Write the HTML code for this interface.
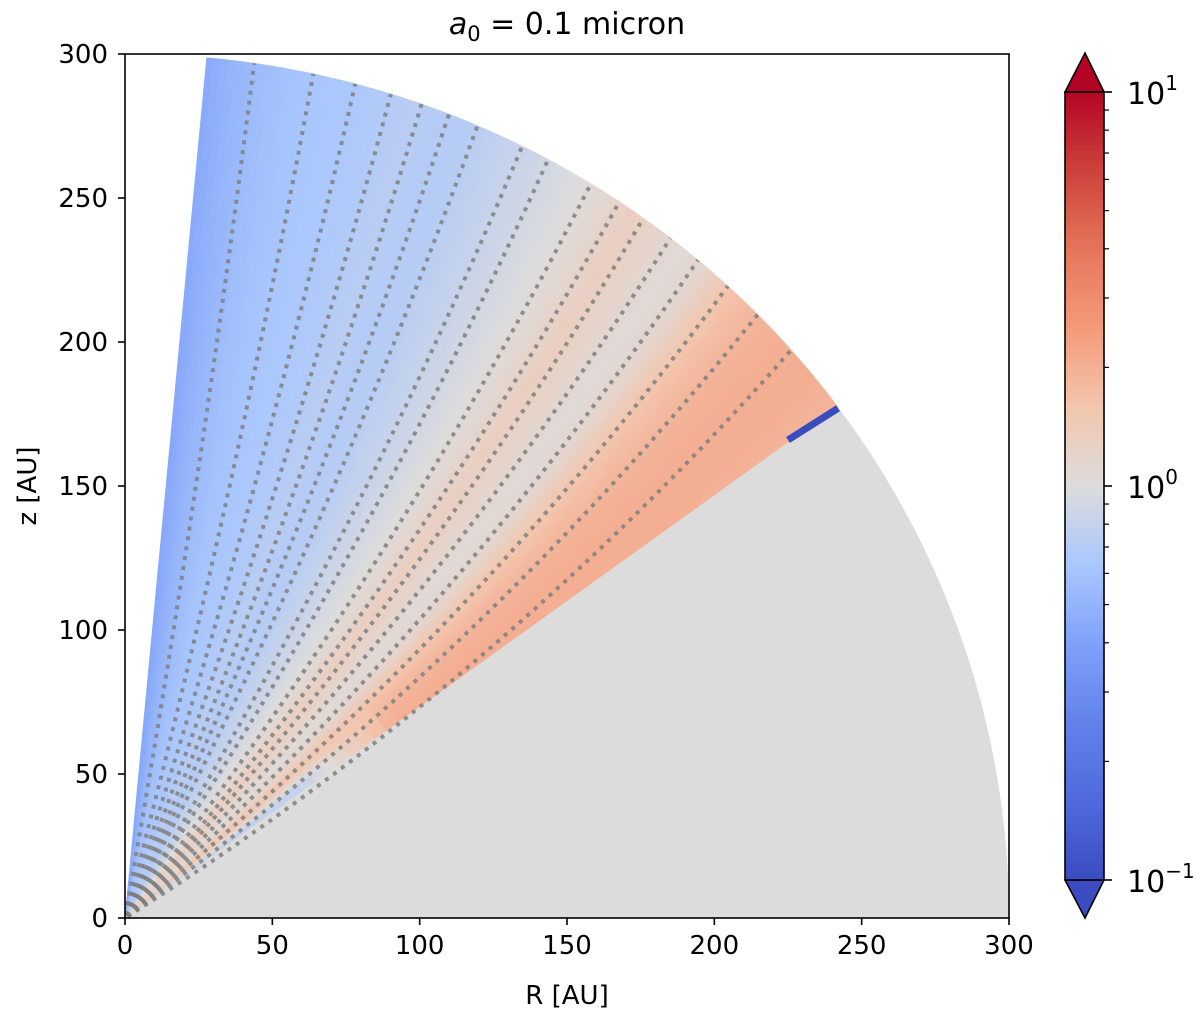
<!DOCTYPE html>
<html><head><meta charset="utf-8"><style>
html,body{margin:0;padding:0;background:#fff;}
svg text{font-family:"DejaVu Sans","Liberation Sans",sans-serif;fill:#000;}
</style></head><body>
<svg id="chart" width="1200" height="1015" viewBox="0 0 1200 1015" xmlns="http://www.w3.org/2000/svg">
<defs>
<clipPath id="plotclip"><rect x="125" y="54" width="884" height="864"/></clipPath>
<linearGradient id="cbgrad" x1="0" y1="1" x2="0" y2="0">
<stop offset="0" stop-color="rgb(59,76,192)"/><stop offset="0.1" stop-color="rgb(80,106,220)"/>
<stop offset="0.2" stop-color="rgb(98,130,234)"/><stop offset="0.3" stop-color="rgb(127,161,249)"/>
<stop offset="0.4" stop-color="rgb(170,199,253)"/><stop offset="0.5" stop-color="rgb(221,220,220)"/>
<stop offset="0.6" stop-color="rgb(243,198,174)"/><stop offset="0.7" stop-color="rgb(244,154,123)"/>
<stop offset="0.8" stop-color="rgb(229,117,91)"/><stop offset="0.9" stop-color="rgb(205,66,60)"/>
<stop offset="1" stop-color="rgb(180,4,38)"/>
</linearGradient>
</defs>
<text x="567" y="34" font-size="30" text-anchor="middle"><tspan font-style="italic">a</tspan><tspan font-size="21" dy="7">0</tspan><tspan dy="-7"> = 0.1 micron</tspan></text>
<g id="plot" clip-path="url(#plotclip)"></g>
<rect x="125" y="54" width="884" height="864" fill="none" stroke="#000" stroke-width="1.6"/>
<g id="axes"></g>
<text x="567" y="1004" font-size="26" text-anchor="middle">R [AU]</text>
<text x="36" y="486" font-size="26" text-anchor="middle" transform="rotate(-90 36 486)">z [AU]</text>
<g id="colorbar">
<path d="M1065,92 L1085,53 L1104,92 Z" fill="rgb(180,4,38)" stroke="#000" stroke-width="1.6"/>
<path d="M1065,880 L1085,918 L1104,880 Z" fill="rgb(59,76,192)" stroke="#000" stroke-width="1.6"/>
<rect x="1065" y="92" width="39" height="788" fill="url(#cbgrad)" stroke="#000" stroke-width="1.6"/>
</g>
</svg>
<script>
// ---- data ----
const xTicks = [0, 50, 100, 150, 200, 250, 300];
const yTicks = [0, 50, 100, 150, 200, 250, 300];
// streamline end elevation angles (deg) at R=300 AU
const streamEndAngles = [81.6, 77.7, 74.9, 72.5, 70.4, 68.5, 66.5, 63.3, 61.4, 58.2, 56.0, 54.1, 51.9, 49.6, 47.0, 44.3, 41.1];
// log10 ratio profile vs streamline-end angle
const profileAngles = [37, 39, 41, 43, 45, 47, 49, 51, 53, 55, 57, 59, 61, 63, 65, 67, 69, 71, 73, 75, 77, 79, 81, 83, 85];
const profileValues = [0.28, 0.31, 0.31, 0.3, 0.26, 0.2, 0.07, 0.02, 0.08, 0.12, 0.05, 0.0, -0.04, -0.08, -0.11, -0.15, -0.16, -0.14, -0.17, -0.19, -0.2, -0.22, -0.25, -0.3, -0.36];
const diskAngle = 36.3;   // lower boundary of wind region (deg)
const wedgeTop = 84.7;    // upper boundary (deg)
const outerRadius = 300;
const cbTicks = [1, 0, -1];
const cbLabels = ["1", "0", "\u22121"];

// ---- scales ----
const sx = r => 125 + r * 884 / 300;
const sy = z => 918 - z * 864 / 300;
const cbY = v => 486 - v * 394;
const NS = "http://www.w3.org/2000/svg";
function mk(tag, attrs, parent) { const e = document.createElementNS(NS, tag); for (const k in attrs) e.setAttribute(k, attrs[k]); parent.appendChild(e); return e; }

const cmapStops = [[59,76,192],[80,106,220],[98,130,234],[127,161,249],[170,199,253],[221,220,220],[243,198,174],[244,154,123],[229,117,91],[205,66,60],[180,4,38]];
function cmap(v) {
  let t = Math.max(0, Math.min(1, (v + 1) / 2)) * 10;
  const i = Math.min(9, Math.floor(t)), f = t - i;
  const a = cmapStops[i], b = cmapStops[i + 1];
  return `rgb(${Math.round(a[0]+(b[0]-a[0])*f)},${Math.round(a[1]+(b[1]-a[1])*f)},${Math.round(a[2]+(b[2]-a[2])*f)})`;
}
function profile(th) {
  if (th <= profileAngles[0]) return profileValues[0];
  for (let i = 0; i < profileAngles.length - 1; i++) {
    if (th <= profileAngles[i + 1]) { const f = (th - profileAngles[i]) / (profileAngles[i + 1] - profileAngles[i]); return profileValues[i] + (profileValues[i + 1] - profileValues[i]) * f; }
  }
  return profileValues[profileValues.length - 1];
}
const bendK = 0.17;
const localAngle = (thEnd, r) => thEnd - bendK * (90 - thEnd) * (1 - r / outerRadius);
function endAngle(th, r) { const s = 1 - r / outerRadius; return (th + 15.3 * s) / (1 + bendK * s); }
function valueAt(r, th) {
  const te = endAngle(th, r);
  let v = profile(te);
  if (te < 47 && r < 115) { const w = Math.min(1, (115 - r) / 40) * Math.min(1, (47 - te) / 3); v = v * (1 - w) + (-0.1) * w; }
  return v;
}
const P = (r, thDeg) => { const t = thDeg * Math.PI / 180; return [sx(r * Math.cos(t)), sy(r * Math.sin(t))]; };

const plot = document.getElementById('plot');
// disk (gray) region
{
  let d = `M${sx(0)},${sy(0)} L${sx(outerRadius)},${sy(0)}`;
  for (let a = 0; a <= diskAngle + 0.6; a += 0.3) { const p = P(outerRadius, a); d += ` L${p[0]},${p[1]}`; }
  d += ' Z';
  const g = mk('path', { d: d, fill: '#dcdcdc' }, plot);
  
  
}
// wind heatmap cells
const cells = mk('g', {}, plot);


const dr = 5, dth = 0.5;
for (let r = 0; r < outerRadius; r += dr) {
  for (let th = diskAngle; th < wedgeTop; th += dth) {
    const th2 = Math.min(wedgeTop, th + dth);
    const a = P(r, th), b = P(r + dr, th), c = P(r + dr, th2), e = P(r, th2);
    const col = cmap(valueAt(r + dr / 2, (th + th2) / 2));
    const cell = mk('polygon', { points: `${a} ${b} ${c} ${e}`, fill: col, stroke: col, 'stroke-width': 0.6 }, cells);
    
    
  }
}
// dark blue artifact at disk surface
{
  const s = mk('line', { x1: sx(225), y1: sy(166), x2: sx(242), y2: sy(177), stroke: 'rgb(59,76,192)', 'stroke-width': 7 }, plot);
  
  
}
// streamlines
const sl = mk('g', {}, plot);


streamEndAngles.forEach(te => {
  const pts = [];
  for (let r = 1; r <= outerRadius + 0.1; r += 4.5) pts.push(P(r, localAngle(te, r)).join(','));
  pts.push(P(outerRadius, te).join(','));
  const pl = mk('polyline', { points: pts.join(' '), fill: 'none', stroke: '#7f7f7f', 'stroke-opacity': 0.85, 'stroke-width': 4, 'stroke-dasharray': '4 6' }, sl);
  
  
});

// axes ticks
const axes = document.getElementById('axes');
xTicks.forEach(v => {
  const t = mk('line', { x1: sx(v), x2: sx(v), y1: 918, y2: 925, stroke: '#000', 'stroke-width': 1.6 }, axes);
  
  
  const l = mk('text', { x: sx(v), y: 954, 'font-size': 26, 'text-anchor': 'middle' }, axes);
  l.textContent = v;
  
  
});
yTicks.forEach(v => {
  const t = mk('line', { x1: 118, x2: 125, y1: sy(v), y2: sy(v), stroke: '#000', 'stroke-width': 1.6 }, axes);
  
  
  const l = mk('text', { x: 108, y: sy(v) + 9, 'font-size': 26, 'text-anchor': 'end' }, axes);
  l.textContent = v;
  
  
});
// colorbar ticks
const cb = document.getElementById('colorbar');
cbTicks.forEach((v, i) => {
  const t = mk('line', { x1: 1104, x2: 1112, y1: cbY(v), y2: cbY(v), stroke: '#000', 'stroke-width': 1.6 }, cb);
  
  
  const l = mk('text', { x: 1127, y: cbY(v) + 12, 'font-size': 30 }, cb);
  
  
  const base = document.createElementNS(NS, 'tspan'); base.textContent = '10'; l.appendChild(base);
  const sup = document.createElementNS(NS, 'tspan'); sup.setAttribute('dy', '-14'); sup.setAttribute('font-size', '20'); sup.textContent = cbLabels[i]; l.appendChild(sup);
});
for (let dec = -1; dec < 1; dec++) {
  for (let k = 2; k <= 9; k++) {
    const y = cbY(dec + Math.log10(k));
    const m = mk('line', { x1: 1104, x2: 1109, y1: y, y2: y, stroke: '#000', 'stroke-width': 1.2 }, cb);
    
    
  }
}
</script>
</body></html>
